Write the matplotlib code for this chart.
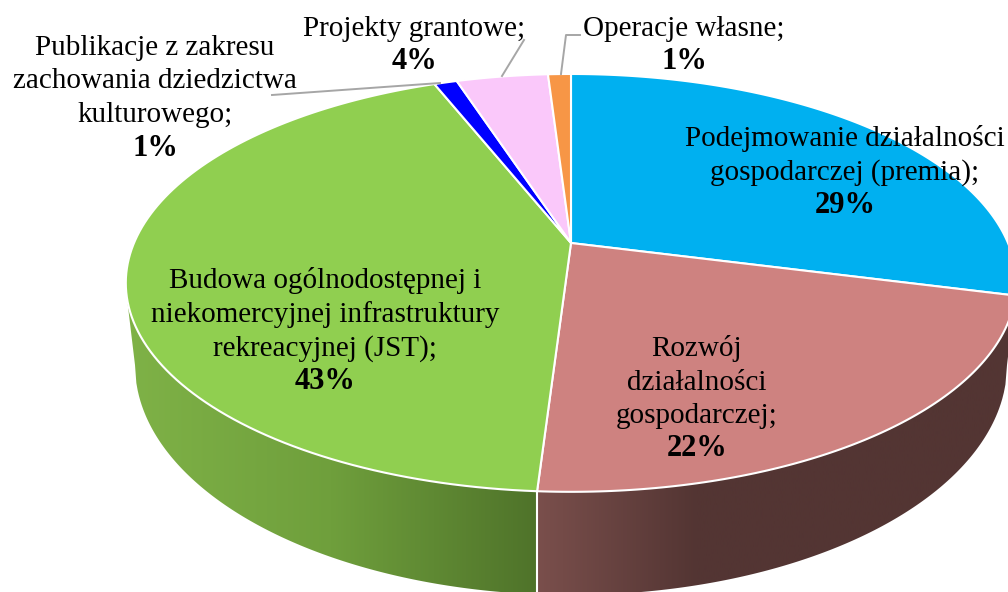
import numpy as np
import matplotlib
matplotlib.use('Agg')
import matplotlib.pyplot as plt
from matplotlib.colors import LinearSegmentedColormap

values = [29, 22, 43, 1, 4, 1]
colors = ['#00B0F0', '#CE8280', '#90CF50', '#0000FF', '#FAC8FA', '#F79646']
labels = [
    ['Podejmowanie działalności', 'gospodarczej (premia);'],
    ['Rozwój', 'działalności', 'gospodarczej;'],
    ['Budowa ogólnodostępnej i', 'niekomercyjnej infrastruktury', 'rekreacyjnej (JST);'],
    ['Publikacje z zakresu', 'zachowania dziedzictwa', 'kulturowego;'],
    ['Projekty grantowe;'],
    ['Operacje własne;'],
]
label_x = [845, 697, 325, 155, 414, 684]
label_y = [146, 356, 288.5, 55, 35.5, 35.5]

green_side = ['#7FB247', '#6F9F3C', '#4F732A']
brown_side = ['#7A4F4C', '#533533', '#533533', '#533533']

plt.rcParams['font.family'] = ['Liberation Serif', 'DejaVu Serif']
fig = plt.figure(figsize=(10.08, 5.92), dpi=100)
ax = fig.add_axes([0, 0, 1, 1])
ax.set_xlim(0, 1008)
ax.set_ylim(592, 0)
ax.axis('off')

# pie in perspective: disk coords go through a projective map
cx, cy = 571, 243
kx, ky, k = 437, 201.3, -0.191
# lower rim of the side wall
low_cy, low_rx, low_ry = 365, 436, 230


def project(theta):
    u = np.sin(theta)
    v = -np.cos(theta)
    w = 1 + k * v
    return cx + kx * u / w, cy + ky * v / w


def lower_rim(x):
    return low_cy + low_ry * np.sqrt(np.clip(1 - ((x - cx) / low_rx) ** 2, 0, 1))


edges = np.cumsum([0] + values) / sum(values) * 2 * np.pi


def side_wall(t0, t1, x_start, x_end, stops, z):
    tt = np.linspace(t0, t1, 200)
    xs, ys = project(tt)
    low_x = np.linspace(x_start, x_end, 300)
    px = np.r_[xs, low_x]
    py = np.r_[ys, lower_rim(low_x)]
    patch = ax.fill(px, py, color='none', zorder=z)[0]
    cmap = LinearSegmentedColormap.from_list('side', stops)
    left, right = min(px), max(px)
    im = ax.imshow(np.linspace(0, 1, 256).reshape(1, -1), cmap=cmap, aspect='auto',
                   extent=[left, right, 592, 0], zorder=z)
    im.set_clip_path(patch)


# theta where the rim reaches its far left in the picture
t = np.linspace(0, 2 * np.pi, 2000)
rim_x, rim_y = project(t)
t_left = t[np.argmin(rim_x)] - 0.04

div_x = project(edges[2])[0]
side_wall(edges[2], t_left, cx - low_rx, div_x, green_side, 2)
side_wall(edges[1], edges[2], div_x, cx + low_rx, brown_side, 2)
ax.set_xlim(0, 1008)
ax.set_ylim(592, 0)
ax.plot([div_x, div_x], [project(edges[2])[1], lower_rim(div_x)], color='white', lw=1.5, zorder=3)

for i, val in enumerate(values):
    tt = np.linspace(edges[i], edges[i + 1], 120)
    xs, ys = project(tt)
    ax.fill(np.r_[cx, xs], np.r_[cy, ys], facecolor=colors[i], edgecolor='white', lw=1.5, zorder=4)

# leader lines
ax.plot([272, 440], [95, 83], color='#A6A6A6', lw=1.4, zorder=5)
ax.plot([524, 502], [40, 76], color='#A6A6A6', lw=1.4, zorder=5)
ax.plot([580, 566, 561], [35, 35, 74], color='#A6A6A6', lw=1.4, zorder=5)

step = 33.5
for i, lines in enumerate(labels):
    y = label_y[i]
    for line in lines:
        ax.text(label_x[i], y, line, ha='center', va='baseline', fontsize=21, color='black', zorder=6)
        y += step
    ax.text(label_x[i], y, f'{values[i]}%', ha='center', va='baseline', fontsize=22,
            fontweight='bold', color='black', zorder=6)

fig.savefig('out.png', dpi=100)
